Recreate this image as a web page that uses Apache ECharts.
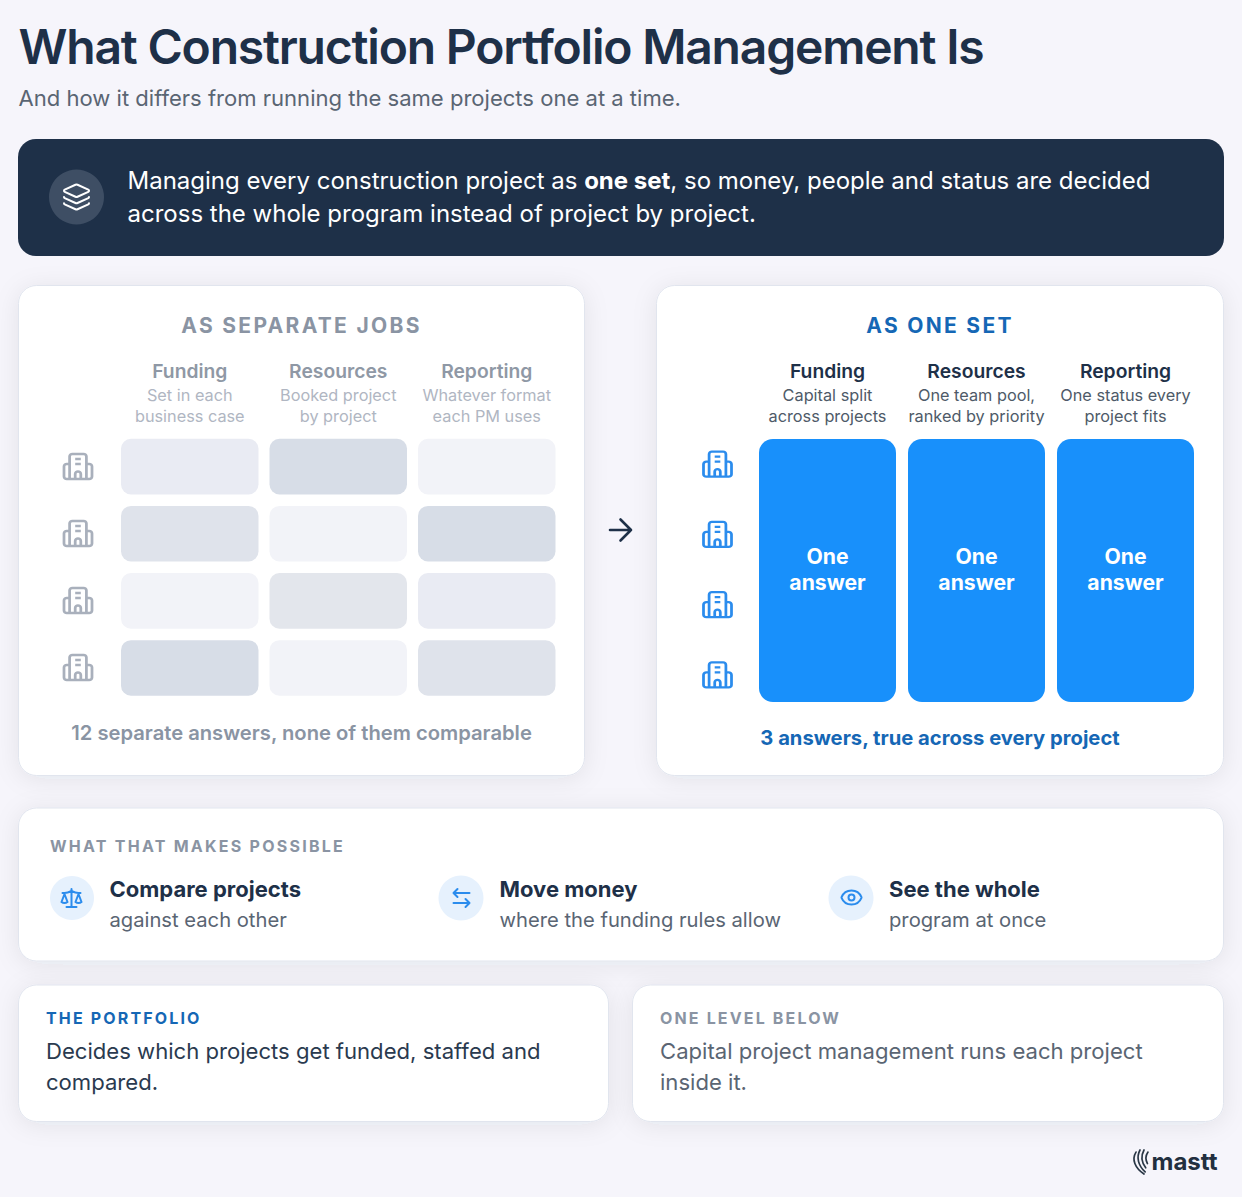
<!DOCTYPE html>
<html>
<head>
<meta charset="utf-8">
<title>What Construction Portfolio Management Is</title>
<script src="https://cdn.jsdelivr.net/npm/echarts@6/dist/echarts.min.js"></script>
<style>
html,body{margin:0;padding:0;background:#f6f5fb}
#chart{width:1242px;height:1197px}
</style>
</head>
<body>
<div id="chart"></div>
<script>
// data
var columns = ['Funding', 'Resources', 'Reporting'];
var projects = ['Project A', 'Project B', 'Project C', 'Project D'];
var separateNotes = [['Set in each', 'business case'], ['Booked project', 'by project'], ['Whatever format', 'each PM uses']];
var setNotes = [['Capital split', 'across projects'], ['One team pool,', 'ranked by priority'], ['One status every', 'project fits']];
// one shade per project and column, 0 = palest
var separateShades = [
  [1, 4, 0],
  [3, 0, 4],
  [0, 2, 1],
  [4, 0, 3]
];
var shadePalette = ['#f2f3f8', '#e9ebf3', '#e3e6ec', '#dfe3eb', '#d7dde7'];
var answersPerColumn = [1, 1, 1];

var NAVY = '#1e3048', BLUE = '#1890fb', DEEP = '#1567b5', GREY = '#8a94a3', SLATE = '#5a6573', ICON = '#2b8ced';
var FONT = 'Inter';

var ICONS = {
  building: 'M6 22V4a2 2 0 0 1 2-2h8a2 2 0 0 1 2 2v18M6 10H4a2 2 0 0 0-2 2v8a2 2 0 0 0 2 2h16a2 2 0 0 0 2-2v-8a2 2 0 0 0-2-2h-2M10 6h4M10 10h4M10 22v-4a2 2 0 0 1 4 0v4',
  layers: 'M12.83 2.18a2 2 0 0 0-1.66 0L2.6 6.08a1 1 0 0 0 0 1.83l8.58 3.91a2 2 0 0 0 1.66 0l8.58-3.9a1 1 0 0 0 0-1.83ZM2 12a1 1 0 0 0 .58.91l8.6 3.91a2 2 0 0 0 1.65 0l8.58-3.9A1 1 0 0 0 22 12M2 17a1 1 0 0 0 .58.91l8.6 3.91a2 2 0 0 0 1.65 0l8.58-3.9A1 1 0 0 0 22 17',
  arrow: 'M5 12h14M12 5l7 7-7 7',
  scales: 'M16 16l3-8 3 8c-.87.65-1.92 1-3 1s-2.13-.35-3-1ZM2 16l3-8 3 8c-.87.65-1.92 1-3 1s-2.13-.35-3-1ZM7 21h10M12 3v18M3 7h2c2 0 5-1 7-2 2 1 5 2 7 2h2',
  swap: 'M8 3L4 7l4 4M4 7h16M16 21l4-4-4-4M20 17H4',
  eye: 'M2.062 12.348a1 1 0 0 1 0-.696 10.75 10.75 0 0 1 19.876 0 1 1 0 0 1 0 .696 10.75 10.75 0 0 1-19.876 0M15 12a3 3 0 1 1-6 0 3 3 0 1 1 6 0'
};

// letter spacing is not an echarts text option, applied to the svg text nodes after render
var SPACING = {
  'What Construction Portfolio Management Is': -1.2,
  'AS SEPARATE JOBS': 2.3,
  'AS ONE SET': 2.3,
  'WHAT THAT MAKES POSSIBLE': 2.25,
  'THE PORTFOLIO': 2.15,
  'ONE LEVEL BELOW': 2.15
};

function card(x, y, w, h, fill, r) {
  return {
    type: 'rect', z: 0,
    shape: {x: x, y: y, width: w, height: h, r: r || 18},
    style: fill ? {fill: fill} : {
      fill: '#fff', stroke: '#e1e5ee', lineWidth: 1,
      shadowColor: 'rgba(30,48,72,0.08)', shadowBlur: 24, shadowOffsetY: 3
    }
  };
}
function text(x, y, str, size, weight, color, align) {
  return {
    type: 'text', z: 3, x: x, y: y,
    style: {text: str, font: weight + ' ' + size + 'px ' + FONT, fill: color, textAlign: align || 'left', textVerticalAlign: 'middle'}
  };
}
function circle(cx, cy, r, color) {
  return {type: 'circle', z: 1, shape: {cx: cx, cy: cy, r: r}, style: {fill: color}};
}
// the graphic component has no free path type, so the line icons go through a custom series
function icon(name, cx, cy, size, color, lw) {
  return {
    type: 'path',
    shape: {pathData: 'M0 0M24 24' + ICONS[name], x: cx - size / 2, y: cy - size / 2, width: size, height: size, layout: 'cover'},
    style: {fill: 'none', stroke: color, lineWidth: lw, lineCap: 'round', lineJoin: 'round'}
  };
}

var graphics = [
  text(18.5, 46.5, 'What Construction Portfolio Management Is', 48, 600, NAVY),
  text(18.5, 98, 'And how it differs from running the same projects one at a time.', 22.05, 400, SLATE),

  card(18, 139, 1206, 117, NAVY),
  circle(76.5, 197, 27.5, '#3e4e64'),
  {
    type: 'text', z: 3, x: 127.5, y: 196.5,
    style: {
      text: 'Managing every construction project as {b|one set}, so money, people and status are decided\nacross the whole program instead of project by project.',
      font: '400 24px ' + FONT, fill: '#fff', lineHeight: 33, textVerticalAlign: 'middle',
      rich: {b: {font: '700 24px ' + FONT, fill: '#fff', lineHeight: 33}}
    }
  },

  card(18.5, 285.5, 566, 490),
  card(656.5, 285.5, 567, 490),
  text(301.5, 325.5, 'AS SEPARATE JOBS', 21, 700, GREY, 'center'),
  text(940, 325.5, 'AS ONE SET', 21, 700, DEEP, 'center'),
  text(301.5, 732, '12 separate answers, none of them comparable', 20.2, 600, GREY, 'center'),
  text(940, 737.5, '3 answers, true across every project', 20.2, 700, DEEP, 'center'),

  card(18.5, 808, 1205, 153),
  text(50, 846, 'WHAT THAT MAKES POSSIBLE', 16, 700, GREY),
  circle(72, 898, 22, '#e6f1fd'),
  text(109.5, 889, 'Compare projects', 22, 700, NAVY),
  text(109.5, 919.5, 'against each other', 20.2, 400, SLATE),
  circle(461, 898, 22.5, '#e6f1fd'),
  text(499.5, 889, 'Move money', 22, 700, NAVY),
  text(499.5, 919.5, 'where the funding rules allow', 20.2, 400, SLATE),
  circle(851, 898, 22.5, '#e6f1fd'),
  text(889, 889, 'See the whole', 22, 700, NAVY),
  text(889, 919.5, 'program at once', 20.2, 400, SLATE),

  card(18.5, 985, 590, 136.5),
  text(46, 1018, 'THE PORTFOLIO', 16, 700, DEEP),
  text(46, 1051, 'Decides which projects get funded, staffed and', 22.1, 400, '#2a3a4f'),
  text(46, 1082, 'compared.', 22.1, 400, '#2a3a4f'),
  card(632.5, 985, 591, 136.5),
  text(660, 1018, 'ONE LEVEL BELOW', 16, 700, GREY),
  text(660, 1051, 'Capital project management runs each project', 22.1, 400, SLATE),
  text(660, 1082, 'inside it.', 22.1, 400, SLATE),

  text(1151.5, 1161.5, 'mastt', 24, 700, '#222f3f')
];

var decorIcons = [
  icon('layers', 76.5, 197, 30, '#fff', 2),
  icon('arrow', 620.5, 530, 36, NAVY, 2.6),
  icon('scales', 71.5, 898, 24, ICON, 2),
  icon('swap', 461.5, 898, 24, ICON, 2),
  icon('eye', 851.5, 897.5, 24, ICON, 2),
  {
    type: 'path',
    shape: {pathData: 'M2 3C-2 10 1 18 9 24M5.5 1C2 8 4 16 10 22M9 1C6 7 7 13 10.5 18M12.5 3C10 7 10.5 11 12 14', x: 1134, y: 1150, width: 14, height: 24, layout: 'cover'},
    style: {fill: 'none', stroke: '#2a3746', lineWidth: 1.7, lineCap: 'round'}
  }
];

// flatten the shades to [column, project, shade] for the custom series
var separateCells = [];
separateShades.forEach(function (row, r) {
  row.forEach(function (shade, c) { separateCells.push([c, r, shade]); });
});

function renderCell(params, api) {
  var pos = api.coord([api.value(0), api.value(1)]);
  var band = api.size([1, 1]);
  var w = band[0] - 11, h = band[1] - 11.5;
  return {
    type: 'rect',
    shape: {x: pos[0] - w / 2, y: pos[1] - h / 2, width: w, height: h, r: 10},
    style: {fill: shadePalette[api.value(2)]}
  };
}

function headerAxis(notes, gridIndex, margin, head, note) {
  return {
    type: 'category', gridIndex: gridIndex, position: 'top', data: columns,
    axisLine: {show: false}, axisTick: {show: false}, splitLine: {show: false},
    axisLabel: {
      interval: 0, margin: margin, fontFamily: FONT, lineHeight: 21,
      formatter: function (value, i) {
        return '{h|' + value + '}\n{n|' + notes[i][0] + '}\n{n|' + notes[i][1] + '}';
      },
      rich: {
        h: {fontSize: 19.3, fontWeight: 600, color: head, fontFamily: FONT, lineHeight: 26},
        n: {fontSize: 16.3, color: note, fontFamily: FONT, lineHeight: 21}
      }
    }
  };
}
function hiddenCategory(axisData, gridIndex, inverse) {
  return {type: 'category', gridIndex: gridIndex, data: axisData, inverse: !!inverse, show: false};
}
function iconSeries(gridIndex, color) {
  return {
    type: 'scatter', xAxisIndex: gridIndex, yAxisIndex: gridIndex,
    symbol: 'path://' + ICONS.building, symbolSize: [28, 25], silent: true,
    itemStyle: {color: 'none', borderColor: color, borderWidth: 2.6, opacity: 1},
    data: projects.map(function (p) { return ['project', p]; })
  };
}

var chart = echarts.init(document.getElementById('chart'), null, {renderer: 'svg'});
chart.setOption({
  animation: false,
  backgroundColor: '#f6f5fb',
  tooltip: {show: false},
  graphic: {elements: graphics},
  grid: [
    {left: 115.5, top: 433, width: 445.5, height: 268.5},
    {left: 753, top: 439, width: 447, height: 263},
    {left: 48, top: 433, width: 60, height: 268},
    {left: 692.5, top: 429, width: 50, height: 281}
  ],
  xAxis: [
    headerAxis(separateNotes, 0, 7, '#8f98a5', '#b0b6c2'),
    headerAxis(setNotes, 1, 13, NAVY, '#4e5a68'),
    hiddenCategory(['project'], 2),
    hiddenCategory(['project'], 3)
  ],
  yAxis: [
    hiddenCategory(projects.map(function (p, i) { return i; }), 0, true),
    {type: 'value', gridIndex: 1, min: 0, max: 1, show: false},
    hiddenCategory(projects, 2, true),
    hiddenCategory(projects, 3, true)
  ],
  series: [
    {
      type: 'custom', xAxisIndex: 0, yAxisIndex: 0, silent: true,
      renderItem: renderCell, encode: {x: 0, y: 1}, data: separateCells
    },
    {
      type: 'bar', xAxisIndex: 1, yAxisIndex: 1, silent: true, barWidth: 137,
      itemStyle: {color: BLUE, borderRadius: 14},
      label: {
        show: true, position: 'inside', formatter: 'One\nanswer',
        color: '#fff', fontFamily: FONT, fontSize: 21.2, fontWeight: 700, lineHeight: 26, offset: [0, -2]
      },
      data: answersPerColumn
    },
    iconSeries(2, '#a9b0bc'),
    iconSeries(3, ICON),
    {
      type: 'custom', coordinateSystem: 'none', silent: true, z: 5,
      renderItem: function () { return {type: 'group', children: decorIcons}; },
      data: [0]
    }
  ]
});

function applySpacing() {
  var nodes = document.querySelectorAll('#chart text');
  for (var i = 0; i < nodes.length; i++) {
    var s = SPACING[nodes[i].textContent];
    if (s) nodes[i].style.letterSpacing = s + 'px';
  }
}
applySpacing();
chart.on('finished', applySpacing);
</script>
</body>
</html>
